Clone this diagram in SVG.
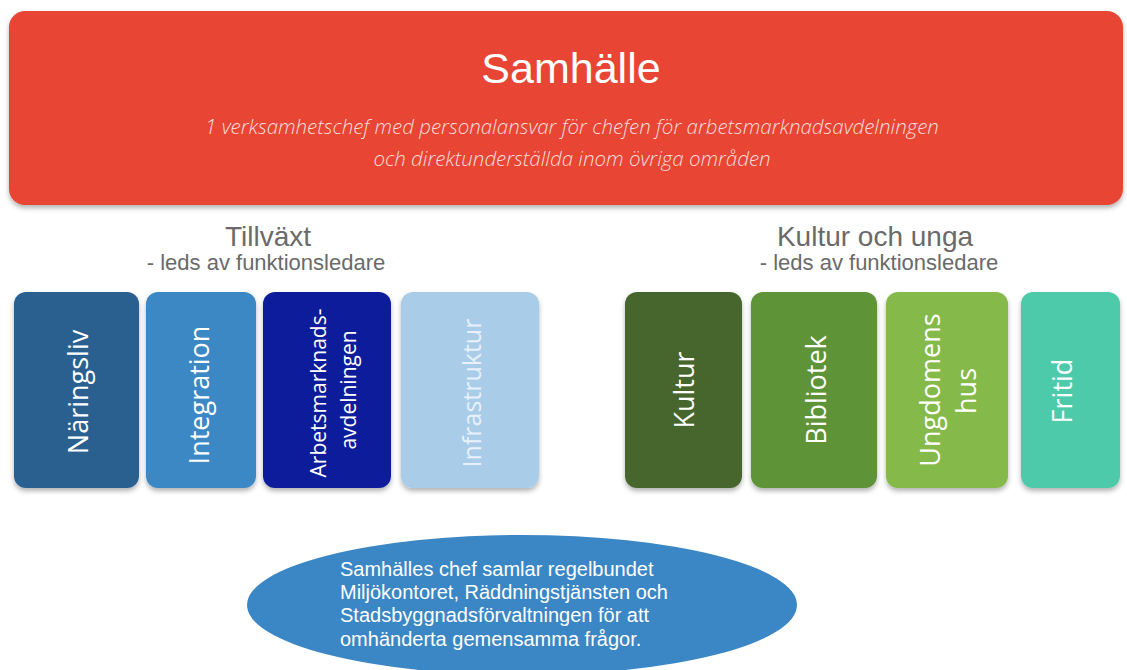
<svg xmlns="http://www.w3.org/2000/svg" width="1127" height="670" viewBox="0 0 1127 670">
<defs>
<filter id="sh" x="-10%" y="-10%" width="120%" height="130%">
<feDropShadow dx="0" dy="3" stdDeviation="2.5" flood-color="#000" flood-opacity="0.3"/>
</filter>
<style>
.title{font-family:"Liberation Sans",Arial,sans-serif;fill:#6a6a6a;text-anchor:middle}
.box{filter:url(#sh)}
.lbl{font-family:"Open Sans","Noto Sans",sans-serif;fill:#ffffff;text-anchor:middle;dominant-baseline:central;font-size:27px}
.sub{font-family:"Open Sans","Noto Sans",sans-serif;font-style:italic;font-weight:300;fill:#f9ddd8;text-anchor:middle;font-size:20.5px}
.ell{font-family:"Liberation Sans",Arial,sans-serif;fill:#ffffff;font-size:20px}
</style>
</defs>
<rect width="1127" height="670" fill="#ffffff"/>
<g id="samhalle">
<rect class="box" x="9" y="11" width="1114" height="194" rx="16" fill="#e84535"/>
<text x="571" y="83" font-family="Liberation Sans, Arial, sans-serif" font-size="43" fill="#ffffff" text-anchor="middle">Samhälle</text>
<text class="sub" x="572" y="134">1 verksamhetschef med personalansvar för chefen för arbetsmarknadsavdelningen</text>
<text class="sub" x="572" y="166">och direktunderställda inom övriga områden</text>
</g>
<g id="tillvaxt">
<text class="title" x="268" y="246" font-size="28">Tillväxt</text>
<text class="title" x="266" y="270" font-size="22">- leds av funktionsledare</text>
</g>
<g id="kultur-och-unga">
<text class="title" x="875" y="246" font-size="28">Kultur och unga</text>
<text class="title" x="879" y="270" font-size="22">- leds av funktionsledare</text>
</g>
<g id="naringsliv">
<rect class="box" x="14" y="292" width="125" height="196" rx="12" fill="#2a6090"/>
<text class="lbl" transform="translate(77,392) rotate(-90)">Näringsliv</text>
</g>
<g id="integration">
<rect class="box" x="146" y="292" width="110" height="196" rx="12" fill="#3a88c5"/>
<text class="lbl" transform="translate(198,395) rotate(-90)">Integration</text>
</g>
<g id="arbetsmarknad">
<rect class="box" x="263" y="292" width="128" height="196" rx="12" fill="#0c1e9b"/>
<text class="lbl" style="font-size:21px" transform="translate(318,393) rotate(-90)">Arbetsmarknads-</text>
<text class="lbl" style="font-size:21px" transform="translate(348,390) rotate(-90)">avdelningen</text>
</g>
<g id="infrastruktur">
<rect class="box" x="401" y="292" width="138" height="196" rx="12" fill="#a9cce9"/>
<text class="lbl" style="fill:#e8f1f9;font-size:25px" transform="translate(471,393) rotate(-90)">Infrastruktur</text>
</g>
<g id="kultur">
<rect class="box" x="625" y="292" width="117" height="196" rx="12" fill="#46662e"/>
<text class="lbl" transform="translate(683,390) rotate(-90)">Kultur</text>
</g>
<g id="bibliotek">
<rect class="box" x="751" y="292" width="126" height="196" rx="12" fill="#5e9339"/>
<text class="lbl" transform="translate(815,390) rotate(-90)">Bibliotek</text>
</g>
<g id="ungdomens-hus">
<rect class="box" x="886" y="292" width="122" height="196" rx="12" fill="#85b94a"/>
<text class="lbl" transform="translate(929,390) rotate(-90)">Ungdomens</text>
<text class="lbl" transform="translate(965,391) rotate(-90)">hus</text>
</g>
<g id="fritid">
<rect class="box" x="1021" y="292" width="99" height="196" rx="12" fill="#4dcaa9"/>
<text class="lbl" transform="translate(1061,391) rotate(-90)">Fritid</text>
</g>
<g id="chef-ellips">
<ellipse cx="522" cy="605" rx="275" ry="70" fill="#3b87c5"/>
<text class="ell" x="340" y="576">Samhälles chef samlar regelbundet</text>
<text class="ell" x="340" y="599.2">Miljökontoret, Räddningstjänsten och</text>
<text class="ell" x="340" y="622.4">Stadsbyggnadsförvaltningen för att</text>
<text class="ell" x="340" y="645.6">omhänderta gemensamma frågor.</text>
</g>
<g id="connectors"></g>
</svg>
